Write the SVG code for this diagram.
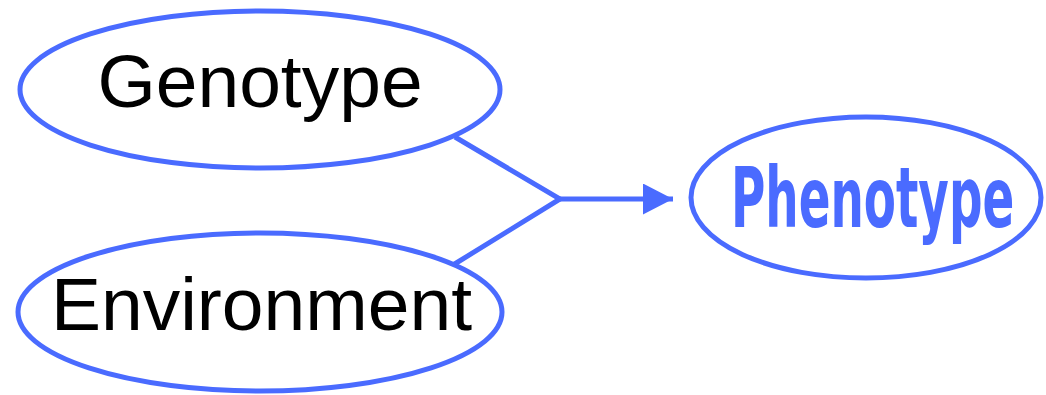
<svg xmlns="http://www.w3.org/2000/svg" width="1046" height="395" viewBox="0 0 1046 395">
  <style>
    .node { fill: #ffffff; stroke: #4a6bff; stroke-width: 5; }
    .label { font-family: "Liberation Sans", Arial, sans-serif; font-size: 75px; fill: #000000; text-anchor: middle; }
    .fancy { font-family: "DejaVu Sans Condensed", "DejaVu Sans", sans-serif; font-weight: bold; font-size: 84px; fill: #4a6bff; }
    .wire { fill: none; stroke: #4a6bff; stroke-width: 5; stroke-linejoin: miter; }
  </style>
  <defs>
    <marker id="arrowhead" markerUnits="userSpaceOnUse" markerWidth="32" markerHeight="32" refX="30" refY="15.5" orient="auto">
      <path d="M0,0 L30,15.5 L0,31 Z" fill="#4a6bff"/>
    </marker>
  </defs>

  <rect width="1046" height="395" fill="#ffffff"/>

  <g id="connectors">
    <polyline class="wire" points="455,137 560,199 453,265"/>
    <line class="wire" x1="560" y1="199" x2="673" y2="199" marker-end="url(#arrowhead)"/>
  </g>

  <g id="genotype">
    <ellipse class="node" cx="260" cy="89.5" rx="240" ry="78.5"/>
    <text class="label" x="260" y="107">Genotype</text>
  </g>

  <g id="environment">
    <ellipse class="node" cx="260" cy="312" rx="242" ry="79"/>
    <text class="label" x="261.5" y="330">Environment</text>
  </g>

  <g id="phenotype">
    <ellipse class="node" cx="866" cy="197.5" rx="175" ry="80.5"/>
    <!-- narrow, tall lettering: squeeze horizontally -->
    <text class="fancy" transform="translate(731,227) scale(0.6,1)" x="0" y="0" textLength="472" lengthAdjust="spacingAndGlyphs">Phenotype</text>
  </g>
</svg>
